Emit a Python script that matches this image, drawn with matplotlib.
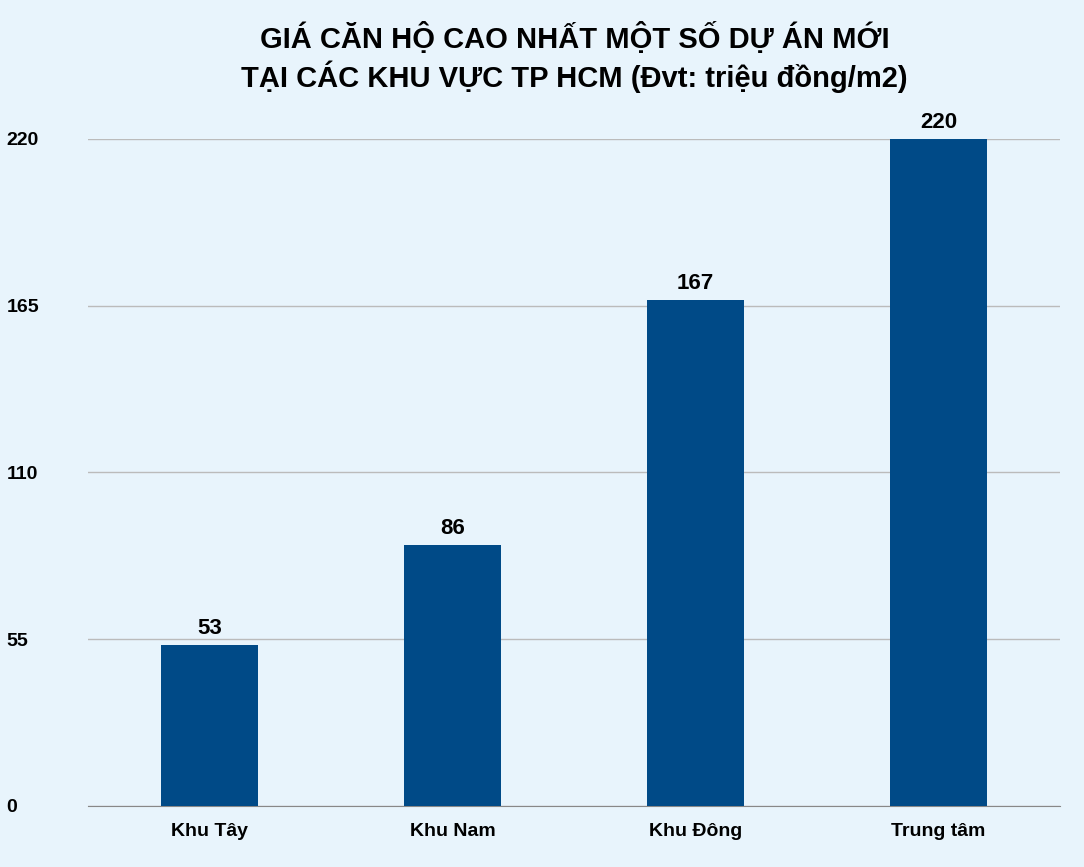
import matplotlib
matplotlib.use("Agg")
import matplotlib.pyplot as plt

categories = ["Khu Tây", "Khu Nam", "Khu Đông", "Trung tâm"]
values = [53, 86, 167, 220]
yticks = [0, 55, 110, 165, 220]
title = "GIÁ CĂN HỘ CAO NHẤT MỘT SỐ DỰ ÁN MỚI\nTẠI CÁC KHU VỰC TP HCM (Đvt: triệu đồng/m2)"

plt.rcParams['font.family'] = ['Liberation Sans', 'DejaVu Sans']
bg = "#E8F4FC"
fig = plt.figure(figsize=(10.84, 8.67), dpi=100, facecolor=bg)
ax = fig.add_axes([0.081, 0.0704, 0.897, 0.7693], facecolor=bg)
x = range(len(categories))
bars = ax.bar(x, values, width=0.4, color="#004A87", zorder=3)
for xi, v in zip(x, values):
    ax.text(xi, v + 2, str(v), ha="center", va="bottom", fontsize=16, fontweight="bold", clip_on=False)
ax.set_xlim(-0.5, 3.5)
ax.set_ylim(0, 220)
ax.set_yticks(yticks)
ax.set_yticklabels([str(t) for t in yticks], fontsize=14, fontweight="bold")
ax.set_xticks(list(x))
ax.set_xticklabels(categories, fontsize=14, fontweight="bold")
ax.grid(axis="y", color="#BBBBBB", linewidth=1, zorder=0)
for s in ["top", "right", "left"]:
    ax.spines[s].set_visible(False)
ax.spines["bottom"].set_color("#888888")
ax.tick_params(length=0, pad=12)
ax.tick_params(axis="y", pad=20)
for lbl in ax.get_yticklabels():
    lbl.set_horizontalalignment("left")
    lbl.set_x(-0.055)
fig.text(0.53, 0.975, title, ha="center", va="top", fontsize=21, fontweight="bold", linespacing=1.25)
fig.savefig("out.png", facecolor=bg)
